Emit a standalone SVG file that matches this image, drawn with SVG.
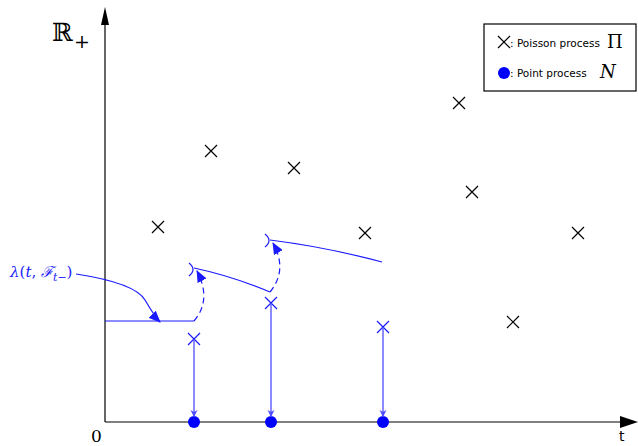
<svg xmlns="http://www.w3.org/2000/svg" width="638" height="446" viewBox="0 0 638 446">
<style>
.cross{stroke:#000;stroke-width:1.2;fill:none}
.bcross{stroke:#1a1aff;stroke-width:1.2;fill:none}
.axis{stroke:#000;stroke-width:1.2;fill:none}
.blue{stroke:#1a1aff;stroke-width:1.2;fill:none}
.drop{stroke:#4d4dff;stroke-width:1.3;fill:none}
.dash{stroke:#1a1aff;stroke-width:1.2;fill:none;stroke-dasharray:6 4}
.dot{fill:#0000ff}
.serif{font-family:"DejaVu Serif","Liberation Serif",serif}
.sans{font-family:"DejaVu Sans","Liberation Sans",sans-serif}
</style>
<defs>
<path id="x" d="M-6,-6L6,6M-6,6L6,-6"/>
<marker id="tri" markerWidth="12" markerHeight="10" refX="11" refY="5" orient="auto" markerUnits="userSpaceOnUse">
<path d="M0,0L12,5L0,10Z" fill="#1a1aff"/>
</marker>
<marker id="stl" markerWidth="8" markerHeight="8" refX="7" refY="4" orient="auto" markerUnits="userSpaceOnUse">
<path d="M0,0.5L7,4L0,7.5L2,4Z" fill="#4d4dff"/>
</marker>
</defs>
<rect width="638" height="446" fill="#fff"/>
<g id="axes">
<path class="axis" d="M105,422H622"/>
<path d="M620,416L638,422L620,428Z" fill="#000"/>
<path class="axis" d="M105,422V24"/>
<path d="M101,25L105,7L109,25Z" fill="#000"/>
<text class="serif" x="52" y="41" font-size="25">ℝ</text>
<text class="serif" x="74" y="48" font-size="19">+</text>
<text class="serif" x="91" y="442" font-size="17">0</text>
<text class="sans" x="619" y="441" font-size="14">t</text>
</g>
<g id="poisson">
<use href="#x" class="cross" x="158" y="227"/>
<use href="#x" class="cross" x="211" y="151"/>
<use href="#x" class="cross" x="294" y="168"/>
<use href="#x" class="cross" x="365" y="233"/>
<use href="#x" class="cross" x="459" y="103"/>
<use href="#x" class="cross" x="472" y="192"/>
<use href="#x" class="cross" x="513" y="322"/>
<use href="#x" class="cross" x="578" y="233"/>
</g>
<g id="accepted">
<use href="#x" class="bcross" x="194" y="339"/>
<use href="#x" class="bcross" x="271" y="303"/>
<use href="#x" class="bcross" x="383" y="327"/>
</g>
<g id="points">
<circle class="dot" cx="194" cy="422" r="6"/>
<circle class="dot" cx="271" cy="422" r="6"/>
<circle class="dot" cx="383" cy="422" r="6"/>
</g>
<g id="connectors">
<path class="drop" d="M194,339V417" marker-end="url(#stl)"/>
<path class="drop" d="M271,303V417" marker-end="url(#stl)"/>
<path class="drop" d="M383,327V417" marker-end="url(#stl)"/>
<path class="blue" d="M105,321H194"/>
<path class="dash" d="M194,321Q212,300 197,271" marker-end="url(#tri)"/>
<path class="blue" d="M194,268Q232,276 270,292"/>
<path class="blue" d="M189,263Q197,269.5 189,276"/>
<path class="dash" d="M270,292Q288,270 273,243" marker-end="url(#tri)"/>
<path class="blue" d="M270,240Q326,247 382,262"/>
<path class="blue" d="M265,234Q273,240.5 265,247"/>
<path class="blue" d="M76,274Q135,283 145,300T160,322" marker-end="url(#tri)"/>
</g>
<g id="label">
<text class="serif" x="10" y="277" font-size="15" fill="#1a1aff"><tspan font-style="italic">λ</tspan>(<tspan font-style="italic">t</tspan>, <tspan font-style="italic">ℱ</tspan><tspan font-size="11" dy="4" font-style="italic">t</tspan><tspan font-size="11">−</tspan><tspan dy="-4">)</tspan></text>
</g>
<g id="legend">
<rect x="484" y="24" width="152" height="67" fill="#fff" stroke="#000" stroke-width="1.2"/>
<use href="#x" class="cross" x="504" y="42"/>
<text class="sans" x="510" y="47" font-size="10.5">: Poisson process</text>
<text class="serif" x="607" y="48" font-size="18">Π</text>
<circle class="dot" cx="504" cy="73" r="6"/>
<text class="sans" x="510" y="77" font-size="10.5">: Point process</text>
<text class="serif" x="600" y="78" font-size="18" font-style="italic">N</text>
</g>
</svg>
